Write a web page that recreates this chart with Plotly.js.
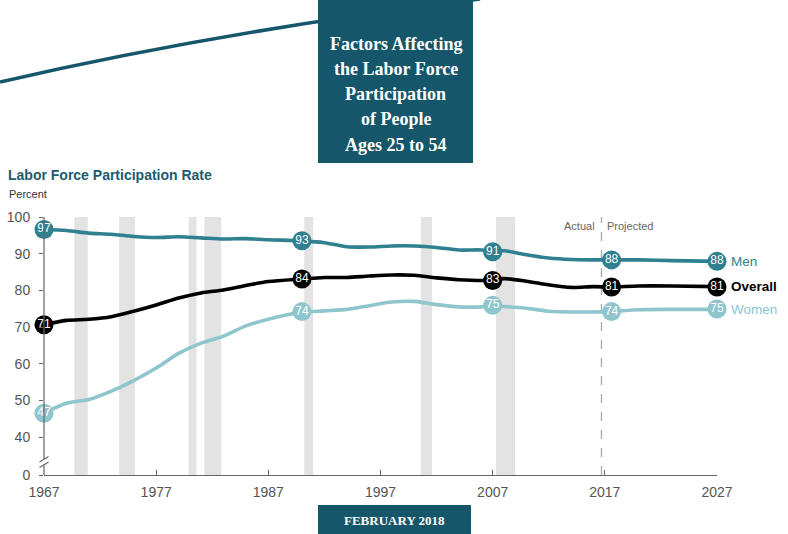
<!DOCTYPE html>
<html>
<head>
<meta charset="utf-8">
<script src="https://cdn.plot.ly/plotly-3.0.1.min.js"></script>
<style>html,body{margin:0;padding:0;background:#fff;}#chart{width:788px;height:534px;}</style>
</head>
<body>
<div id="chart"></div>
<script>
// ---- data ----
const years   = [1967,1969,1971,1973,1975,1977,1979,1981,1983,1985,1987,1990,1992,1994,1996,1998,2000,2002,2004,2006,2007,2008,2010,2012,2014,2016,2017.6,2020,2023,2027];
const men     = [96.6,96.3,95.6,95.3,94.7,94.4,94.6,94.3,94.0,94.1,93.8,93.5,93.0,91.9,91.8,92.1,92.1,91.7,91.0,91.0,90.6,90.8,89.7,88.8,88.4,88.3,88.3,88.3,88.1,87.9];
const overall = [70.6,71.8,72.1,72.8,74.3,76.0,77.9,79.3,80.1,81.3,82.4,83.1,83.5,83.5,83.9,84.2,84.1,83.4,82.9,82.7,82.8,83.2,82.5,81.5,80.8,81.0,80.9,81.2,81.2,81.0];
const women   = [46.5,49.2,50.2,52.5,55.4,58.8,62.8,65.6,67.5,70.3,72.1,74.0,74.4,74.8,75.8,76.8,77.0,76.1,75.5,75.5,75.8,75.6,75.1,74.3,74.1,74.1,74.2,74.7,74.8,74.8];

const markerYears    = [1967,1990,2007,2017.6,2027];
const menMarkers     = [96.6,93.5,90.5,88.3,87.9];
const overallMarkers = [70.6,83.1,82.7,80.9,80.9];
const womenMarkers   = [46.5,74.2,75.9,74.2,74.9];
const menLabels      = ['97','93','91','88','88'];
const overallLabels  = ['71','84','83','81','81'];
const womenLabels    = ['47','74','75','74','75'];

const recessionStart = [1969.7,1973.7,1979.9,1981.3,1990.2,2000.6,2007.3];
const recessionEnd   = [1970.9,1975.1,1980.6,1982.8,1991.0,2001.6,2009.0];
const projectionStart = 2016.7;

const xTicks = [1967,1977,1987,1997,2007,2017,2027];
const yTickVals = [29.64,40,50,60,70,80,90,100];
const yTickText = ['0','40','50','60','70','80','90','100'];

const seriesNames = ['Men','Overall','Women'];
const headerLines = ['Factors Affecting','the Labor Force','Participation','of People','Ages 25 to 54'];

// ---- styles ----
const C_MEN = '#2f8090', C_ALL = '#000000', C_WOM = '#8fc5cd', C_DARK = '#16566b';
const SANS = '"Liberation Sans", Arial, sans-serif';
const SERIF = '"Liberation Serif", "DejaVu Serif", serif';

// pixel->paper helpers (margins l=44, r=71, t=217, b=59 -> plot 673x258)
const ML=44, PW=673, PB=475, PH=258;
const px = v => (v-ML)/PW;
const py = v => (PB-v)/PH;

function lineTrace(y, color, name){
  return {x: years, y: y, mode:'lines', name:name, line:{color:color, width:3.6, shape:'spline', smoothing:0.8}, hoverinfo:'skip', cliponaxis:false};
}
function markerTrace(y, labels, color){
  return {x: markerYears, y: y, mode:'markers+text', text: labels, textposition:'middle center',
    textfont:{family:SANS, size:12, color:'#ffffff'},
    marker:{size:19, color:color, line:{width:0}}, cliponaxis:false, hoverinfo:'skip'};
}

const data = [
  lineTrace(women, C_WOM, 'Women'),
  lineTrace(overall, C_ALL, 'Overall'),
  lineTrace(men, C_MEN, 'Men'),
  markerTrace(womenMarkers, womenLabels, C_WOM),
  markerTrace(overallMarkers, overallLabels, C_ALL),
  markerTrace(menMarkers, menLabels, C_MEN)
];

const shapes = [];
for (let i=0;i<recessionStart.length;i++){
  shapes.push({type:'rect', xref:'x', yref:'paper', x0:recessionStart[i], x1:recessionEnd[i], y0:0, y1:1,
    fillcolor:'#e3e3e3', line:{width:0}, layer:'below'});
}
shapes.push({type:'line', xref:'x', yref:'paper', x0:projectionStart, x1:projectionStart, y0:0, y1:1,
  line:{color:'#aaaaaa', width:1.3, dash:'dash'}, layer:'below'});
// y axis line with break
shapes.push({type:'line', xref:'paper', yref:'paper', x0:0, x1:0, y0:py(459.5), y1:1, line:{color:'#666', width:1.2}});
shapes.push({type:'line', xref:'paper', yref:'paper', x0:0, x1:0, y0:0, y1:py(465), line:{color:'#666', width:1.2}});
shapes.push({type:'line', xref:'paper', yref:'paper', x0:px(39.5), x1:px(48.5), y0:py(462), y1:py(456.5), line:{color:'#666', width:1.2}});
shapes.push({type:'line', xref:'paper', yref:'paper', x0:px(39.5), x1:px(48.5), y0:py(467.5), y1:py(462), line:{color:'#666', width:1.2}});
// header decoration
shapes.push({type:'path', xref:'paper', yref:'paper',
  path:'M '+px(0)+','+py(82)+' Q '+px(219)+','+py(31.6)+' '+px(480)+','+py(-1),
  line:{color:C_DARK, width:3.5}, fillcolor:'rgba(0,0,0,0)'});
shapes.push({type:'rect', xref:'paper', yref:'paper', x0:px(318), x1:px(473), y0:py(163), y1:py(-2),
  fillcolor:C_DARK, line:{width:0}});
shapes.push({type:'rect', xref:'paper', yref:'paper', x0:px(318), x1:px(471), y0:py(536), y1:py(505),
  fillcolor:C_DARK, line:{width:0}});

const annotations = [];
const headerY = [44,69,94,119,145];
headerLines.forEach((t,i)=>{
  annotations.push({xref:'paper', yref:'paper', x:px(395.5), y:py(headerY[i]), text:'<b>'+t+'</b>', showarrow:false,
    xanchor:'center', yanchor:'middle', font:{family:SERIF, size:18, color:'#ffffff'}});
});
annotations.push({xref:'paper', yref:'paper', x:px(394.5), y:py(520), text:'<b>FEBRUARY 2018</b>', showarrow:false,
  xanchor:'center', yanchor:'middle', font:{family:SERIF, size:13, color:'#ffffff'}});
annotations.push({xref:'paper', yref:'paper', x:px(7), y:py(194), text:'Percent', showarrow:false,
  xanchor:'left', yanchor:'middle', font:{family:SANS, size:11, color:'#333'}});
annotations.push({xref:'x', yref:'paper', x:projectionStart, y:py(226), text:'Actual', showarrow:false,
  xanchor:'right', yanchor:'middle', xshift:-4, font:{family:SANS, size:11, color:'#666'}});
annotations.push({xref:'x', yref:'paper', x:projectionStart, y:py(226), text:'Projected', showarrow:false,
  xanchor:'left', yanchor:'middle', xshift:4, font:{family:SANS, size:11, color:'#666'}});
const endVals = [men[men.length-1], overall[overall.length-1], women[women.length-1]];
const endColors = [C_MEN, C_ALL, C_WOM];
seriesNames.forEach((n,i)=>{
  annotations.push({xref:'x', yref:'y', x:2027, y:endVals[i], text: i===1 ? '<b>'+n+'</b>' : n, showarrow:false,
    xanchor:'left', yanchor:'middle', xshift:12, font:{family:SANS, size:13.5, color:endColors[i]}});
});

const layout = {
  width:788, height:534,
  margin:{l:ML, r:71, t:217, b:59, pad:0},
  paper_bgcolor:'#ffffff', plot_bgcolor:'#ffffff',
  showlegend:false,
  title:{text:'<b>Labor Force Participation Rate</b>', xref:'container', yref:'container', x:8/788, xanchor:'left',
    y:1-175/534, yanchor:'middle', font:{family:SANS, size:14, color:'#1c5b70'}},
  xaxis:{range:[1967,2027], tickvals:xTicks, ticktext:xTicks.map(String), ticks:'inside', ticklen:5, tickcolor:'#666',
    showline:true, linecolor:'#666', linewidth:1.2, showgrid:false, zeroline:false, ticklabelstandoff:4,
    tickfont:{family:SANS, size:14, color:'#555'}, fixedrange:true},
  yaxis:{range:[29.64,100], tickvals:yTickVals, ticktext:yTickText, ticks:'outside', ticklen:4, tickcolor:'#666',
    showline:false, showgrid:false, zeroline:false, ticklabelstandoff:6,
    tickfont:{family:SANS, size:14, color:'#555'}, fixedrange:true},
  shapes:shapes,
  annotations:annotations
};

Plotly.newPlot('chart', data, layout, {staticPlot:true, displayModeBar:false});
</script>
</body>
</html>
